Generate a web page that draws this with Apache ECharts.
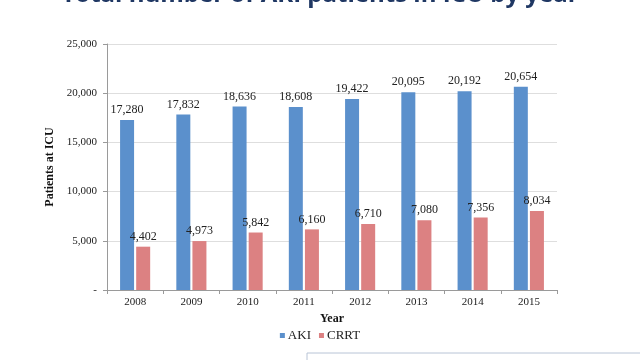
<!DOCTYPE html>
<html><head><meta charset="utf-8">
<script src="https://cdn.jsdelivr.net/npm/echarts@6/dist/echarts.min.js"></script>
<style>html,body{margin:0;padding:0;background:#fff}#c{width:640px;height:360px}</style>
</head><body><div id="c"></div>
<script>
var years = ['2008','2009','2010','2011','2012','2013','2014','2015'];
var aki = [17280,17832,18636,18608,19422,20095,20192,20654];
var crrt = [4402,4973,5842,6160,6710,7080,7356,8034];
var yTicks = [0,5000,10000,15000,20000,25000];
var titleText = 'Total number of AKI patients in ICU by year';

var serif = '"Liberation Serif","Times New Roman",serif';
function fmt(v){ return v === 0 ? '-' : v.toLocaleString('en-US'); }
var chart = echarts.init(document.getElementById('c'));
chart.setOption({
  animation: false,
  title: { text: titleText, left: 'center', top: -22,
    textStyle: { fontFamily: '"Open Sans",sans-serif', fontSize: 24, fontWeight: 'bold', color: '#1f3763' } },
  grid: { left: 107, right: 83, top: 44, bottom: 70 },
  legend: { bottom: 13, left: 'center', itemWidth: 5, itemHeight: 5, itemGap: 8,
    icon: 'rect', textStyle: { fontFamily: serif, fontSize: 13, color: '#222', padding: [0,0,0,-2] },
    data: ['AKI','CRRT'] },
  xAxis: { type: 'category', data: years, name: 'Year', nameLocation: 'middle', nameGap: 22,
    nameTextStyle: { fontFamily: serif, fontWeight: 'bold', fontSize: 12, color: '#111' },
    axisLine: { lineStyle: { color: '#9a9a9a' } },
    axisTick: { show: true, length: 4, lineStyle: { color: '#9a9a9a' } },
    axisLabel: { fontFamily: serif, fontSize: 11, color: '#222', margin: 7 } },
  yAxis: { type: 'value', min: yTicks[0], max: yTicks[yTicks.length-1], interval: 5000,
    name: 'Patients at ICU', nameLocation: 'middle', nameGap: 45, nameRotate: 90,
    nameTextStyle: { fontFamily: serif, fontWeight: 'bold', fontSize: 12, color: '#111' },
    axisLine: { show: true, lineStyle: { color: '#9a9a9a' } },
    axisTick: { show: true, length: 4, lineStyle: { color: '#9a9a9a' } },
    splitLine: { lineStyle: { color: '#dedede' } },
    axisLabel: { fontFamily: serif, fontSize: 11, color: '#222', margin: 10, formatter: fmt } },
  series: [
    { name: 'AKI', type: 'bar', data: aki, barWidth: 14, barGap: '15%',
      itemStyle: { color: '#5b90cc' },
      label: { show: true, position: 'top', distance: 4, fontFamily: serif, fontSize: 12, color: '#222',
        formatter: function(p){ return fmt(p.value); } } },
    { name: 'CRRT', type: 'bar', data: crrt, barWidth: 14,
      itemStyle: { color: '#dc8182' },
      label: { show: true, position: 'top', distance: 4, fontFamily: serif, fontSize: 12, color: '#222',
        formatter: function(p){ return fmt(p.value); } } }
  ],
  graphic: [
    { type: 'rect', shape: { x: 307, y: 353, width: 340, height: 20 },
      style: { fill: 'none', stroke: '#b8c4d6', lineWidth: 1 } }
  ]
});
</script></body></html>
